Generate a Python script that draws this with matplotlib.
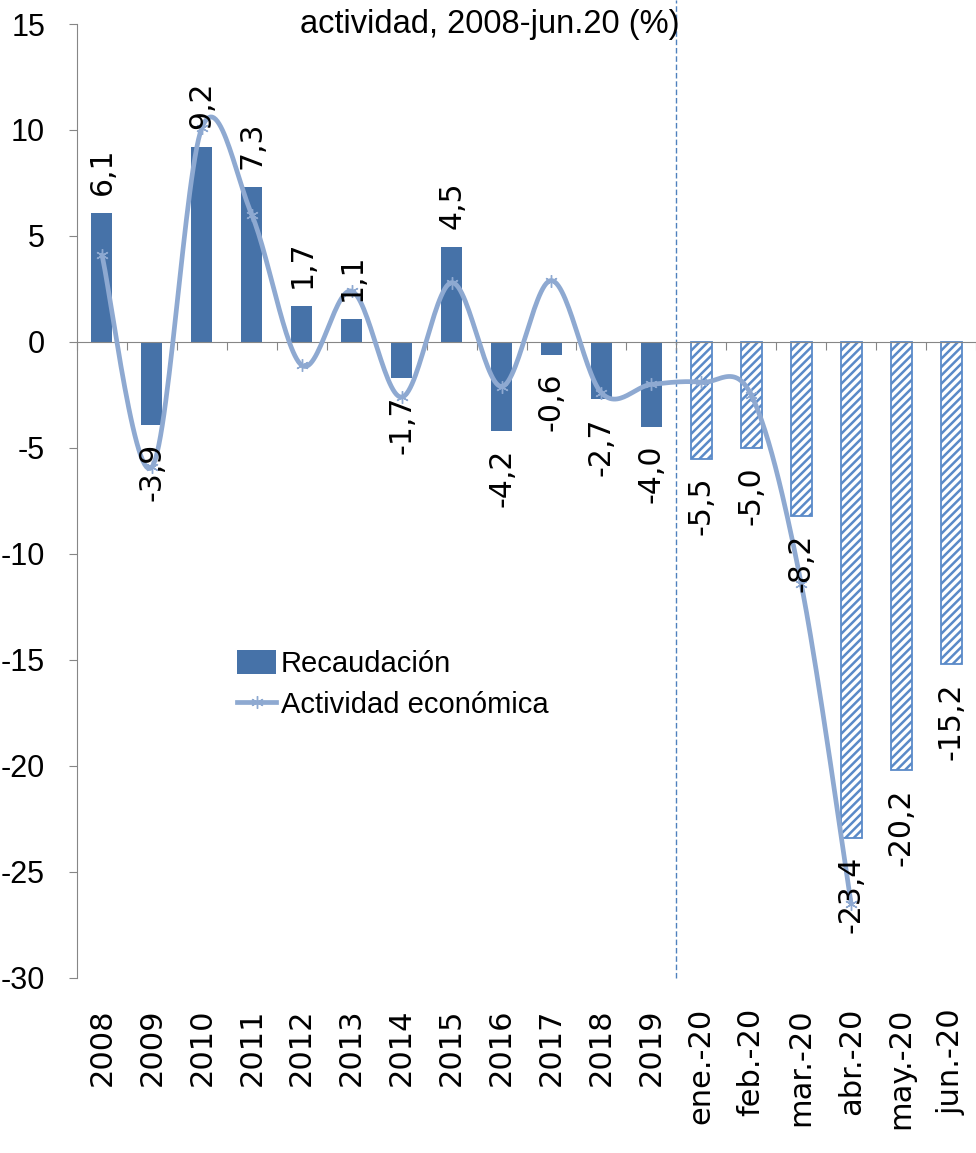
import numpy as np
import matplotlib
matplotlib.use('Agg')
import matplotlib.pyplot as plt
from matplotlib.lines import Line2D
from matplotlib.patches import Patch

# categories (years, then months of 2020)
cats = ['2008', '2009', '2010', '2011', '2012', '2013', '2014', '2015', '2016',
        '2017', '2018', '2019', 'ene.-20', 'feb.-20', 'mar.-20', 'abr.-20',
        'may.-20', 'jun.-20']
# tax collection, real change (%)
recaudacion = [6.1, -3.9, 9.2, 7.3, 1.7, 1.1, -1.7, 4.5, -4.2, -0.6, -2.7, -4.0,
               -5.5, -5.0, -8.2, -23.4, -20.2, -15.2]
rec_labels = ['6,1', '-3,9', '9,2', '7,3', '1,7', '1,1', '-1,7', '4,5', '-4,2',
              '-0,6', '-2,7', '-4,0', '-5,5', '-5,0', '-8,2', '-23,4', '-20,2', '-15,2']
# economic activity (%), ends in abr.-20
actividad = [4.1, -5.9, 10.1, 6.0, -1.1, 2.4, -2.6, 2.8, -2.1, 2.9, -2.4, -2.0,
             -1.9, -2.5, -11.4, -26.5]
n_years = 12

bar_col = '#4672A8'
hatch_col = '#5A8AC8'
line_col = '#8EA9D1'
sans = ['Liberation Sans', 'DejaVu Sans']

plt.rcParams['hatch.linewidth'] = 1.8


def smooth(xs, ys, steps=30):
    # Catmull-Rom style smoothing like the spreadsheet "smoothed line"
    p = np.column_stack([xs, ys]).astype(float)
    out = [p[0]]
    for i in range(len(p) - 1):
        p0 = p[i - 1] if i > 0 else p[i]
        p3 = p[i + 2] if i + 2 < len(p) else p[i + 1]
        p1, p2 = p[i], p[i + 1]
        c1 = p1 + (p2 - p0) / 6
        c2 = p2 - (p3 - p1) / 6
        t = np.linspace(0, 1, steps)[1:, None]
        seg = (1 - t) ** 3 * p1 + 3 * (1 - t) ** 2 * t * c1 + 3 * (1 - t) * t ** 2 * c2 + t ** 3 * p2
        out.extend(seg)
    out = np.array(out)
    return out[:, 0], out[:, 1]


fig = plt.figure(figsize=(9.76, 11.53), dpi=100)
ax = fig.add_axes([77 / 976, 1 - 978 / 1153, 1 - 77 / 976, 954 / 1153])

x = np.arange(len(cats))
ax.bar(x[:n_years], recaudacion[:n_years], width=0.42, color=bar_col, zorder=2)
ax.bar(x[n_years:], recaudacion[n_years:], width=0.42, color='white',
       edgecolor=hatch_col, linewidth=1.3, hatch='////', zorder=2)

xa = np.arange(len(actividad))
sx, sy = smooth(xa, actividad)
ax.plot(sx, sy, color=line_col, lw=3.4, zorder=3, solid_capstyle='round')
ax.plot(xa, actividad, ls='none', marker=(6, 2, 0), ms=9, mew=1.0,
        color=line_col, zorder=4)

for i, (v, lab) in enumerate(zip(recaudacion, rec_labels)):
    off = 13 if v >= 0 else -13
    ax.annotate(lab, (i, v), xytext=(0, off), textcoords='offset points',
                rotation=90, ha='center', va='bottom' if v >= 0 else 'top',
                fontsize=21.5, family='DejaVu Sans', zorder=5)

# category labels under the plot
for i, c in enumerate(cats):
    ax.text(i, -30 / 954, c, transform=ax.get_xaxis_transform(),
            rotation=90, ha='center', va='top', fontsize=22, family='DejaVu Sans')

ax.set_xlim(-0.5, 17.5)
ax.set_ylim(-30, 15)
ax.set_yticks(np.arange(-30, 16, 5))
ax.set_yticklabels([str(t) for t in range(-30, 16, 5)], family=sans, fontsize=22)
ax.tick_params(axis='y', length=6, color='#868686', pad=17)

ax.set_xticks(np.arange(-0.5, 18, 1))
ax.set_xticklabels([])
ax.tick_params(axis='x', length=6, color='#868686', direction='out')
ax.spines['bottom'].set_position(('data', 0))
ax.spines['bottom'].set_color('#868686')
ax.spines['left'].set_color('#868686')
ax.spines['top'].set_visible(False)
ax.spines['right'].set_visible(False)

# separator between annual and monthly data
ax.axvline(11.5, ymin=0, ymax=1 + 24 / 954, color='#4F81BD', ls=(0, (4, 2)),
           lw=1, clip_on=False, zorder=1)

fig.text(490 / 976, 1 - 33 / 1153, 'actividad, 2008-jun.20 (%)', ha='center',
         va='baseline', fontsize=23.5, family=sans)

handles = [Patch(facecolor=bar_col, edgecolor='none'),
           Line2D([], [], color=line_col, lw=3.4, marker=(6, 2, 0), ms=9, mew=1.0)]
fig.legend(handles, ['Recaudación', 'Actividad económica'], loc='upper left',
           bbox_to_anchor=(237 / 976, 1 - 650 / 1153), frameon=False,
           prop={'family': sans, 'size': 21}, handlelength=1.35,
           handleheight=0.9, handletextpad=0.15, labelspacing=0.45,
           borderaxespad=0, borderpad=0)

fig.savefig('out.png', dpi=100)
